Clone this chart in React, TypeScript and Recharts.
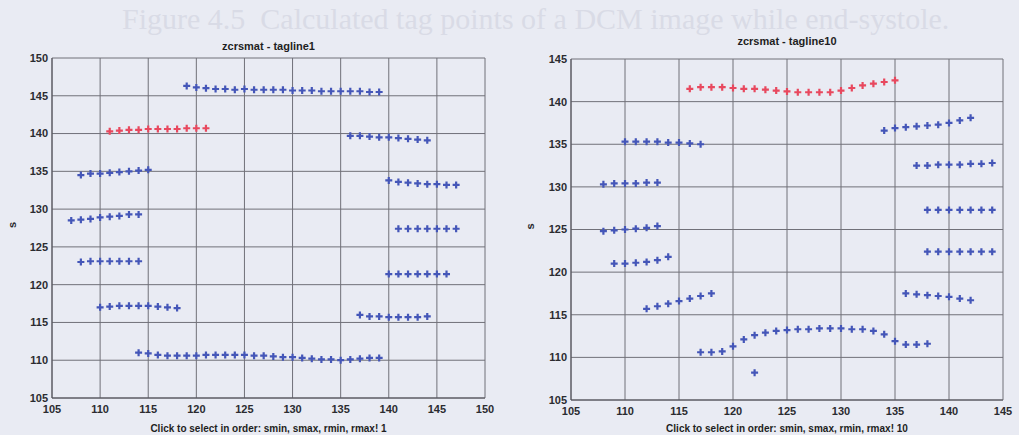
import { ScatterChart, Scatter, XAxis, YAxis, CartesianGrid } from 'recharts';

type Pt = [number, number];

// tagline1 (left panel)
const leftRed: Pt[] = [[111, 140.3], [112, 140.4], [113, 140.5], [114, 140.5], [115, 140.6], [116, 140.6], [117, 140.6], [118, 140.6], [119, 140.7], [120, 140.7], [121, 140.7]];
const leftTop: Pt[] = [[119, 146.3], [120, 146.1], [121, 146.0], [122, 145.9], [123, 145.9], [124, 145.8], [125, 145.9], [126, 145.8], [127, 145.8], [128, 145.8], [129, 145.8], [130, 145.7], [131, 145.7], [132, 145.7], [133, 145.6], [134, 145.6], [135, 145.6], [136, 145.6], [137, 145.6], [138, 145.5], [139, 145.5]];
const left139: Pt[] = [[136, 139.7], [137, 139.7], [138, 139.6], [139, 139.5], [140, 139.5], [141, 139.4], [142, 139.3], [143, 139.2], [144, 139.1]];
const left135: Pt[] = [[108, 134.5], [109, 134.7], [110, 134.7], [111, 134.8], [112, 134.9], [113, 135.0], [114, 135.1], [115, 135.2]];
const left133: Pt[] = [[140, 133.8], [141, 133.6], [142, 133.5], [143, 133.4], [144, 133.3], [145, 133.3], [146, 133.2], [147, 133.2]];
const left129: Pt[] = [[107, 128.5], [108, 128.6], [109, 128.7], [110, 128.9], [111, 129.0], [112, 129.1], [113, 129.3], [114, 129.3]];
const left127: Pt[] = [[141, 127.4], [142, 127.4], [143, 127.4], [144, 127.4], [145, 127.4], [146, 127.4], [147, 127.4]];
const left123: Pt[] = [[108, 123.0], [109, 123.1], [110, 123.1], [111, 123.1], [112, 123.1], [113, 123.1], [114, 123.1]];
const left121: Pt[] = [[140, 121.4], [141, 121.4], [142, 121.4], [143, 121.4], [144, 121.4], [145, 121.4], [146, 121.4]];
const left117: Pt[] = [[110, 117.0], [111, 117.1], [112, 117.2], [113, 117.2], [114, 117.2], [115, 117.2], [116, 117.1], [117, 117.0], [118, 116.9]];
const left116: Pt[] = [[137, 116.0], [138, 115.8], [139, 115.8], [140, 115.7], [141, 115.7], [142, 115.7], [143, 115.7], [144, 115.8]];
const left110: Pt[] = [[114, 111.0], [115, 110.9], [116, 110.7], [117, 110.6], [118, 110.6], [119, 110.6], [120, 110.6], [121, 110.7], [122, 110.7], [123, 110.7], [124, 110.7], [125, 110.7], [126, 110.6], [127, 110.6], [128, 110.5], [129, 110.4], [130, 110.4], [131, 110.3], [132, 110.2], [133, 110.1], [134, 110.1], [135, 110.0], [136, 110.1], [137, 110.2], [138, 110.3], [139, 110.3]];

// tagline10 (right panel)
const rightRed: Pt[] = [[116, 141.5], [117, 141.7], [118, 141.7], [119, 141.7], [120, 141.6], [121, 141.5], [122, 141.5], [123, 141.4], [124, 141.3], [125, 141.2], [126, 141.1], [127, 141.1], [128, 141.1], [129, 141.1], [130, 141.3], [131, 141.6], [132, 141.9], [133, 142.1], [134, 142.3], [135, 142.5]];
const right138: Pt[] = [[134, 136.6], [135, 136.9], [136, 137.0], [137, 137.1], [138, 137.2], [139, 137.3], [140, 137.5], [141, 137.8], [142, 138.1]];
const right135: Pt[] = [[110, 135.3], [111, 135.3], [112, 135.3], [113, 135.3], [114, 135.2], [115, 135.2], [116, 135.1], [117, 135.0]];
const right133: Pt[] = [[137, 132.5], [138, 132.5], [139, 132.6], [140, 132.6], [141, 132.6], [142, 132.7], [143, 132.7], [144, 132.8]];
const right130: Pt[] = [[108, 130.3], [109, 130.4], [110, 130.4], [111, 130.4], [112, 130.5], [113, 130.5]];
const right127: Pt[] = [[138, 127.3], [139, 127.3], [140, 127.3], [141, 127.3], [142, 127.3], [143, 127.3], [144, 127.3]];
const right125: Pt[] = [[108, 124.8], [109, 124.9], [110, 125.0], [111, 125.1], [112, 125.2], [113, 125.4]];
const right122: Pt[] = [[138, 122.4], [139, 122.4], [140, 122.4], [141, 122.4], [142, 122.4], [143, 122.4], [144, 122.4]];
const right121: Pt[] = [[109, 121.0], [110, 121.0], [111, 121.1], [112, 121.2], [113, 121.4], [114, 121.8]];
const right117: Pt[] = [[136, 117.5], [137, 117.4], [138, 117.3], [139, 117.2], [140, 117.1], [141, 116.9], [142, 116.7]];
const right116: Pt[] = [[112, 115.7], [113, 116.0], [114, 116.3], [115, 116.6], [116, 116.9], [117, 117.2], [118, 117.5]];
const right113: Pt[] = [[117, 110.6], [118, 110.6], [119, 110.7], [120, 111.3], [121, 112.1], [122, 112.6], [123, 112.9], [124, 113.1], [125, 113.2], [126, 113.3], [127, 113.3], [128, 113.4], [129, 113.4], [130, 113.4], [131, 113.3], [132, 113.3], [133, 113.1], [134, 112.7], [135, 111.9], [136, 111.5], [137, 111.5], [138, 111.6]];
const rightOutlier: Pt[] = [[122, 108.2]];

const leftXTicks = [105, 110, 115, 120, 125, 130, 135, 140, 145, 150];
const leftYTicks = [105, 110, 115, 120, 125, 130, 135, 140, 145, 150];
const rightXTicks = [105, 110, 115, 120, 125, 130, 135, 140, 145];
const rightYTicks = [105, 110, 115, 120, 125, 130, 135, 140, 145];

const leftBlue = [leftTop, left139, left135, left133, left129, left127, left123, left121, left117, left116, left110];
const rightBlue = [right138, right135, right133, right130, right127, right125, right122, right121, right117, right116, right113, rightOutlier];

const BLUE = '#4456b8';
const RED = '#e8485e';
const BG = '#e9ebf3';
const font = '"Liberation Sans", Arial, sans-serif';
const tick = { fontSize: 11, fontWeight: 700, fill: '#2b2b30', fontFamily: font };

const toObj = (pts: Pt[]) => pts.map(([x, y]) => ({ x, y }));

const plus = (color: string) => (props: any) => {
  const { cx, cy } = props;
  return (
    <path
      d={`M${cx - 3.5},${cy}h7M${cx},${cy - 3.5}v7`}
      stroke={color}
      strokeWidth={2.2}
      fill="none"
    />
  );
};

function Panel(props: {
  left: number; width: number; margin: any; yWidth: number; xHeight: number;
  xTicks: number[]; yTicks: number[]; red: Pt[]; blue: Pt[][];
  title: string; titleTop: number; xlabel: string; sOffset: number;
}) {
  const p = props;
  const xMin = p.xTicks[0], xMax = p.xTicks[p.xTicks.length - 1];
  const yMin = p.yTicks[0], yMax = p.yTicks[p.yTicks.length - 1];
  const plotCenter = p.yWidth + p.margin.left + (p.width - p.yWidth - p.margin.left - p.margin.right) / 2;
  return (
    <div style={{ position: 'absolute', left: p.left, top: 0, width: p.width, height: 435 }}>
      <div style={{
        position: 'absolute', left: plotCenter - 100, width: 200, top: p.titleTop, textAlign: 'center',
        fontFamily: font, fontWeight: 700, fontSize: 11, lineHeight: '13px', color: '#1e1e22',
      }}>{p.title}</div>
      <ScatterChart width={p.width} height={435} margin={p.margin}>
        <CartesianGrid stroke="#707078" strokeWidth={1} />
        <XAxis
          type="number" dataKey="x" domain={[xMin, xMax]} ticks={p.xTicks}
          allowDataOverflow height={p.xHeight} tick={tick} tickLine={false}
          tickSize={0} tickMargin={7} axisLine={{ stroke: '#505058' }}
          label={{ value: p.xlabel, position: 'insideBottom', offset: 3, style: { fontSize: 10, fontWeight: 700, fill: '#1e1e22', fontFamily: font } }}
        />
        <YAxis
          type="number" dataKey="y" domain={[yMin, yMax]} ticks={p.yTicks}
          allowDataOverflow width={p.yWidth} tick={tick} tickLine={false}
          tickSize={0} tickMargin={4} axisLine={{ stroke: '#505058' }}
          label={{ value: 's', angle: -90, position: 'insideLeft', offset: p.sOffset, style: { fontSize: 11, fontWeight: 700, fill: '#2b2b30', fontFamily: font } }}
        />
        {p.blue.map((s, i) => (
          <Scatter key={i} data={toObj(s)} shape={plus(BLUE)} isAnimationActive={false} />
        ))}
        <Scatter data={toObj(p.red)} shape={plus(RED)} isAnimationActive={false} />
      </ScatterChart>
    </div>
  );
}

export default function App() {
  return (
    <div style={{ position: 'absolute', left: 0, top: 0, width: 1019, height: 435, background: BG, overflow: 'hidden' }}>
      <div style={{
        position: 'absolute', left: 122, top: 5, fontFamily: '"Liberation Serif", serif',
        fontSize: 30, lineHeight: '28px', color: '#d9dbe6', whiteSpace: 'nowrap',
      }}>Figure 4.5&nbsp; Calculated tag points of a DCM image while end-systole.</div>
      <Panel
        left={0} width={500} margin={{ top: 58, right: 15, bottom: 0, left: 0 }}
        yWidth={52} xHeight={37} xTicks={leftXTicks} yTicks={leftYTicks}
        red={leftRed} blue={leftBlue} title="zcrsmat - tagline1" titleTop={40}
        xlabel="Click to select in order: smin, smax, rmin, rmax! 1" sOffset={12}
      />
      <Panel
        left={510} width={509} margin={{ top: 59, right: 16, bottom: 0, left: 0 }}
        yWidth={61} xHeight={35} xTicks={rightXTicks} yTicks={rightYTicks}
        red={rightRed} blue={rightBlue} title="zcrsmat - tagline10" titleTop={35}
        xlabel="Click to select in order: smin, smax, rmin, rmax! 10" sOffset={20}
      />
    </div>
  );
}
